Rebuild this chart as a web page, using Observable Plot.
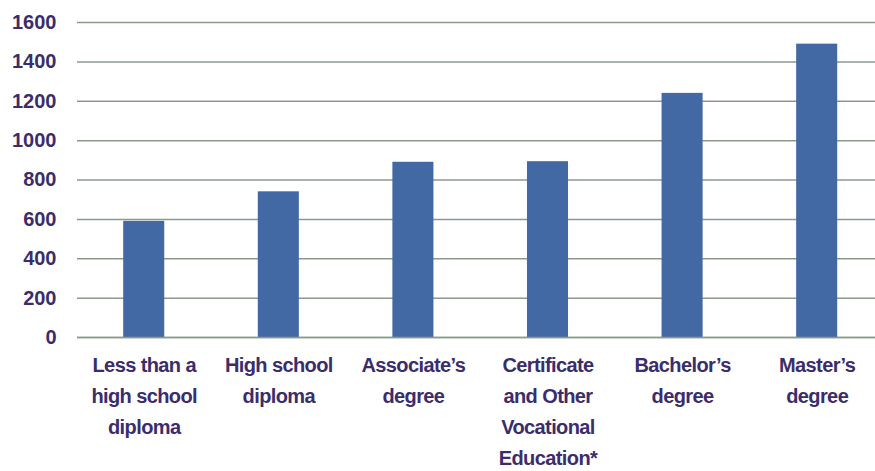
<!DOCTYPE html>
<html>
<head>
<meta charset="utf-8">
<script src="https://cdn.jsdelivr.net/npm/d3@7"></script>
<script src="https://cdn.jsdelivr.net/npm/@observablehq/plot@0.6"></script>
<style>
  html, body { margin: 0; padding: 0; background: #fff; }
  #chart svg { display: block; }
  #chart svg g.ylab text { font-family: "Liberation Sans", Arial, sans-serif !important; font-size: 20px !important; font-weight: bold !important; }
  #chart svg g.xlab text { font-family: "Liberation Sans", Arial, sans-serif !important; font-size: 20px !important; font-weight: bold !important; letter-spacing: -0.6px; }
</style>
</head>
<body>
<div id="chart"></div>
<script>
const categories = [
  "Less than a\nhigh school\ndiploma",
  "High school\ndiploma",
  "Associate’s\ndegree",
  "Certificate\nand Other\nVocational\nEducation*",
  "Bachelor’s\ndegree",
  "Master’s\ndegree"
];
const values = [590, 740, 890, 893, 1240, 1490];
const yTicks = [0, 200, 400, 600, 800, 1000, 1200, 1400, 1600];

const data = categories.map((c, i) => ({category: c, value: values[i]}));

const textColor = "#3b2d6c";
const chart = Plot.plot({
  width: 875,
  height: 471,
  marginLeft: 77,
  marginRight: 0,
  marginTop: 22,
  marginBottom: 134,
  style: {background: "#fff", overflow: "visible"},
  x: {domain: categories, paddingInner: 0.695, paddingOuter: 0.312, align: 0.55, round: false},
  y: {domain: [0, 1600]},
  marks: [
    Plot.gridY(yTicks, {stroke: "#8c9a8c", strokeOpacity: 1, strokeWidth: 1.5}),
    Plot.barY(data, {x: "category", y: "value", fill: "#4369a4"}),
    Plot.ruleY([0], {stroke: "#8c9a8c", strokeWidth: 1.5}),
    Plot.axisY(yTicks, {
      className: "ylab",
      tickSize: 0, tickPadding: 21, label: null,
      fontSize: 20, fontWeight: "bold", fill: textColor,
      fontFamily: "Liberation Sans",
      tickFormat: d => String(d)
    }),
    Plot.axisX({
      className: "xlab",
      tickSize: 0, tickPadding: 12, label: null,
      fontSize: 20, fontWeight: "bold", fill: textColor,
      fontFamily: "Liberation Sans",
      lineHeight: 1.55,
      tickFormat: d => d
    })
  ]
});
document.getElementById("chart").appendChild(chart);
</script>
</body>
</html>
